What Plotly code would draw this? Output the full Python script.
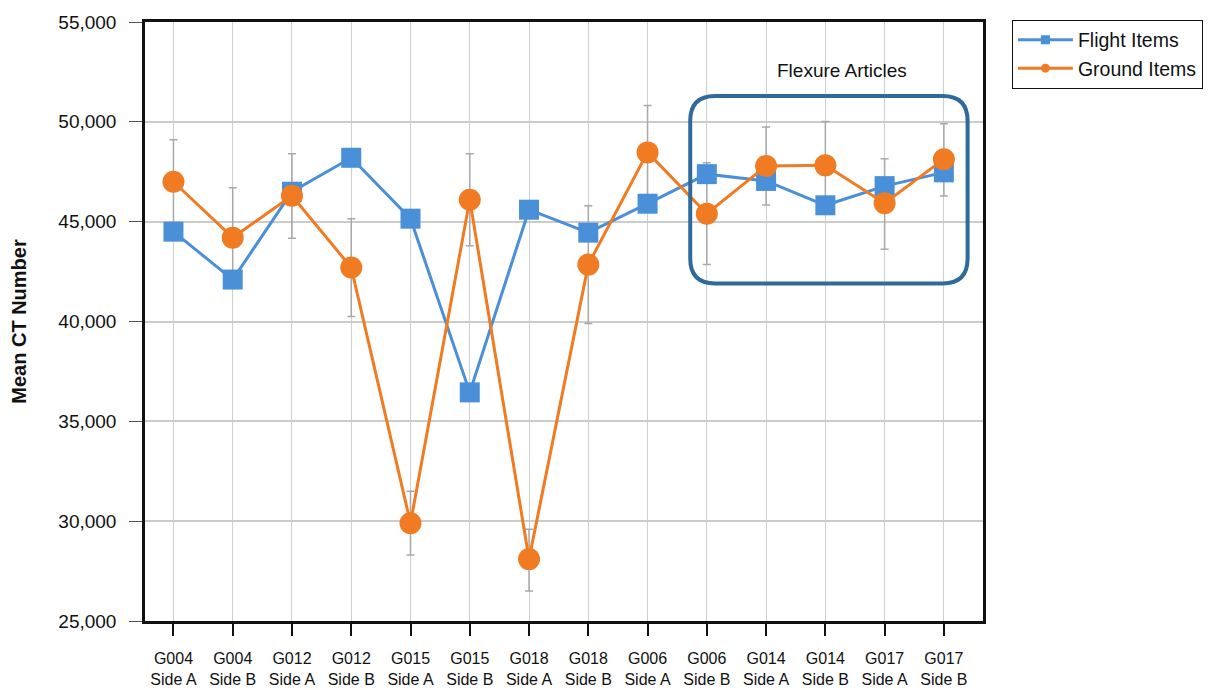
import plotly.graph_objects as go

categories = ["G004<br>Side A", "G004<br>Side B", "G012<br>Side A", "G012<br>Side B",
              "G015<br>Side A", "G015<br>Side B", "G018<br>Side A", "G018<br>Side B",
              "G006<br>Side A", "G006<br>Side B", "G014<br>Side A", "G014<br>Side B",
              "G017<br>Side A", "G017<br>Side B"]
flight = [44500, 42100, 46500, 48200, 45150, 36450, 45600, 44450, 45900, 47380, 47040, 45820, 46780, 47470]
ground = [47000, 44200, 46300, 42700, 29900, 46100, 28100, 42850, 48470, 45400, 47790, 47820, 45920, 48130]
ground_err_plus = [2100, 2500, 2100, 2450, 1600, 2300, 1500, 2950, 2350, 2550, 1950, 2200, 2230, 1770]
ground_err_minus = [2100, 2500, 2130, 2450, 1600, 2300, 1600, 2950, 2350, 2550, 1960, 2200, 2300, 1850]
y_ticks = [25000, 30000, 35000, 40000, 45000, 50000, 55000]
box_x = [8.72, 13.4]
box_y = [41900, 51300]

xs = list(range(len(categories)))
BLUE = "#4a90d9"
ORANGE = "#f07b22"
FONT = "Arial, Liberation Sans, sans-serif"

fig = go.Figure()
fig.add_trace(go.Scatter(
    x=xs, y=ground, mode="markers", showlegend=False, hoverinfo="skip",
    marker=dict(size=1, color="rgba(0,0,0,0)"),
    error_y=dict(type="data", symmetric=False, array=ground_err_plus, arrayminus=ground_err_minus,
                 color="#a8a8a8", thickness=1.5, width=4),
))
fig.add_trace(go.Scatter(
    x=xs, y=flight, mode="lines+markers", name="Flight Items", showlegend=False,
    line=dict(color=BLUE, width=3),
    marker=dict(symbol="square", size=20, color=BLUE),
))
fig.add_trace(go.Scatter(
    x=xs, y=ground, mode="lines+markers", name="Ground Items", showlegend=False,
    line=dict(color=ORANGE, width=3),
    marker=dict(symbol="circle", size=22, color=ORANGE),
))
# legend-only entries with small markers
fig.add_trace(go.Scatter(
    x=[None], y=[None], mode="lines+markers", name="Flight Items",
    line=dict(color=BLUE, width=3), marker=dict(symbol="square", size=9, color=BLUE),
))
fig.add_trace(go.Scatter(
    x=[None], y=[None], mode="lines+markers", name="Ground Items",
    line=dict(color=ORANGE, width=3), marker=dict(symbol="circle", size=9, color=ORANGE),
))

# rounded rectangle
x0, x1 = box_x
y0, y1 = box_y
rx = 0.42
ry = 1250
path = (f"M {x0+rx},{y1} L {x1-rx},{y1} Q {x1},{y1} {x1},{y1-ry} "
        f"L {x1},{y0+ry} Q {x1},{y0} {x1-rx},{y0} L {x0+rx},{y0} "
        f"Q {x0},{y0} {x0},{y0+ry} L {x0},{y1-ry} Q {x0},{y1} {x0+rx},{y1} Z")
fig.add_shape(type="path", path=path, xref="x", yref="y",
              line=dict(color="#2f6a9c", width=4), layer="above")
fig.add_annotation(x=(x0 + x1) / 2 + 0.22, y=y1 + 650, xref="x", yref="y",
                   text="Flexure Articles", showarrow=False, yanchor="bottom",
                   font=dict(size=19, color="#111111", family=FONT))

fig.update_layout(
    width=1207, height=682,
    margin=dict(l=137, r=231, t=12, b=69),
    paper_bgcolor="white", plot_bgcolor="white",
    font=dict(family=FONT, color="#111111"),
    showlegend=True,
    legend=dict(x=1.0345, y=1.004, xanchor="left", yanchor="top",
                bordercolor="#111111", borderwidth=1, font=dict(size=19.5),
                bgcolor="white", itemwidth=55, tracegroupgap=0),
    xaxis=dict(range=[-0.48, 13.66], tickmode="array", tickvals=xs, ticktext=categories,
               automargin=False,
               showgrid=True, gridcolor="#cfcfcf", gridwidth=1,
               showline=True, linecolor="#111111", linewidth=2.5, mirror=True,
               ticks="outside", ticklen=12, tickcolor="#111111", tickwidth=1.5,
               ticklabelstandoff=9,
               tickfont=dict(size=16), zeroline=False),
    yaxis=dict(range=[25000, 55000], tickvals=y_ticks, tickformat=",",
               automargin=False,
               showgrid=True, gridcolor="#cccccc", gridwidth=1.5,
               showline=True, linecolor="#111111", linewidth=2.5, mirror=True,
               ticks="outside", ticklen=13, tickcolor="#555555", tickwidth=1,
               ticklabelstandoff=9,
               tickfont=dict(size=19), zeroline=False,
               title=dict(text="<b>Mean CT Number</b>", standoff=33,
                          font=dict(size=20, family=FONT))),
)

fig.write_html("out.html")
